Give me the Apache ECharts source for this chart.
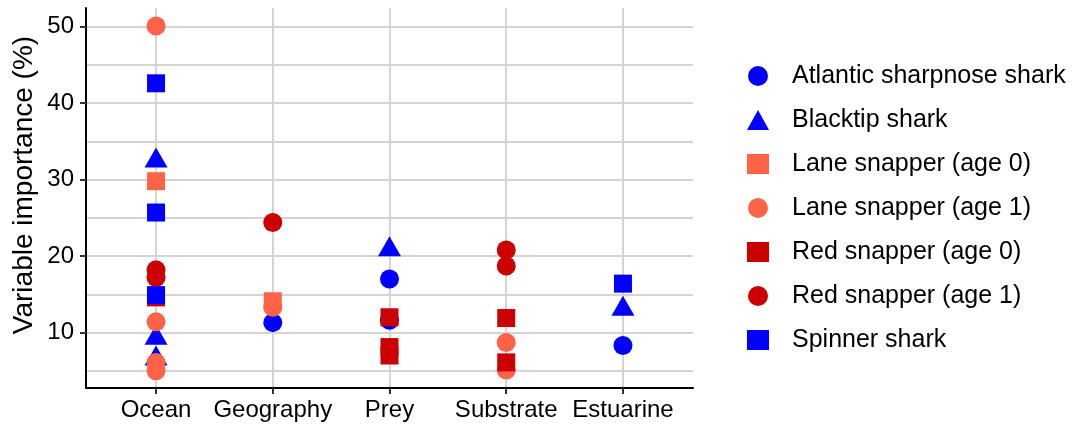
<!doctype html>
<html lang="en">
<head>
    <meta charset="UTF-8">
    <script src="https://cdn.jsdelivr.net/npm/echarts@6/dist/echarts.min.js"></script>
    <title>Variable importance</title>
    <style>html, body { margin: 0; padding: 0; background: #fff; }</style>
</head>
<body>
<div id="main" style="width: 1077px;height:429px;"></div>
<script>
    // categories on the x axis (placed at 1..5)
    var categories = ['Ocean', 'Geography', 'Prey', 'Substrate', 'Estuarine'];
    var yMajor = [10, 20, 30, 40, 50];
    var yGridLines = [5, 10, 15, 20, 25, 30, 35, 40, 45, 50];

    // [category, variable importance %]
    var atlanticSharpnose = [['Geography', 11.3], ['Prey', 17.0], ['Prey', 11.6], ['Estuarine', 8.3]];
    var blacktip = [['Ocean', 32.9], ['Ocean', 9.7], ['Ocean', 7.0], ['Prey', 21.3], ['Estuarine', 13.5]];
    var laneAge0 = [['Ocean', 29.8], ['Geography', 14.1]];
    var laneAge1 = [['Ocean', 50.1], ['Ocean', 11.4], ['Ocean', 6.1], ['Ocean', 5.0],
        ['Geography', 13.3], ['Substrate', 8.7], ['Substrate', 5.1]];
    var redAge0 = [['Ocean', 14.6], ['Prey', 12.0], ['Prey', 8.1], ['Prey', 7.0],
        ['Substrate', 11.9], ['Substrate', 6.1]];
    var redAge1 = [['Ocean', 18.2], ['Ocean', 17.2], ['Geography', 24.4],
        ['Substrate', 20.8], ['Substrate', 18.7]];
    var spinner = [['Ocean', 42.6], ['Ocean', 25.7], ['Ocean', 14.9], ['Estuarine', 16.4]];

    var FONT = 'Liberation Sans, Arial, sans-serif';
    var BLUE = '#0000FF', TOMATO = '#FF6347', DARKRED = '#CC0000';

    function toXY(rows) {
        return rows.map(function (r) { return [categories.indexOf(r[0]) + 1, r[1]]; });
    }

    function scatter(name, rows, symbol, size, color) {
        return {
            name: name,
            type: 'scatter',
            yAxisIndex: 0,
            symbol: symbol,
            symbolSize: size,
            itemStyle: {color: color, opacity: 1},
            emphasis: {disabled: true},
            data: toXY(rows)
        };
    }

    var myChart = echarts.init(document.getElementById('main'));
    var option = {
        animation: false,
        textStyle: {fontFamily: FONT},
        grid: {left: 86, right: 384, top: 8, bottom: 41, containLabel: false, outerBoundsMode: 'none'},
        graphic: [{
            // y axis title
            type: 'text',
            x: 24,
            y: 185,
            rotation: Math.PI / 2,
            style: {
                text: 'Variable importance (%)',
                fontSize: 28,
                fontFamily: FONT,
                fill: '#000',
                align: 'center',
                verticalAlign: 'middle'
            }
        }],
        legend: {
            orient: 'vertical',
            left: 742,
            top: 58,
            itemWidth: 22,
            itemHeight: 20,
            itemGap: 18,
            textStyle: {fontSize: 25, color: '#000', fontFamily: FONT, padding: [0, 0, 0, 18], lineHeight: 26},
            data: ['Atlantic sharpnose shark', 'Blacktip shark', 'Lane snapper (age 0)',
                'Lane snapper (age 1)', 'Red snapper (age 0)', 'Red snapper (age 1)', 'Spinner shark']
        },
        xAxis: {
            type: 'value',
            min: 0.4,
            max: 5.6,
            axisLine: {onZero: false, lineStyle: {color: '#000', width: 2}},
            axisTick: {customValues: [1, 2, 3, 4, 5], length: 6, lineStyle: {color: '#333', width: 2}},
            axisLabel: {
                customValues: [1, 2, 3, 4, 5],
                margin: 10,
                fontSize: 24,
                color: '#000',
                formatter: function (v) { return categories[Math.round(v) - 1]; }
            },
            splitLine: {show: true, lineStyle: {color: '#d4d4d4', width: 2}}
        },
        yAxis: [
            {
                // grid lines only
                type: 'value',
                min: 2.75,
                max: 52.45,
                axisLine: {show: false},
                axisTick: {show: false, customValues: yGridLines},
                axisLabel: {show: false},
                splitLine: {show: true, lineStyle: {color: '#d4d4d4', width: 2}}
            },
            {
                type: 'value',
                position: 'left',
                min: 2.75,
                max: 52.45,
                axisLine: {show: true, onZero: false, lineStyle: {color: '#000', width: 2}},
                axisTick: {customValues: yMajor, length: 6, lineStyle: {color: '#333', width: 2}},
                axisLabel: {customValues: yMajor, margin: 12, fontSize: 24, color: '#000'},
                splitLine: {show: false}
            }
        ],
        series: [
            scatter('Atlantic sharpnose shark', atlanticSharpnose, 'circle', 19, BLUE),
            scatter('Blacktip shark', blacktip, 'triangle', [23, 20], BLUE),
            scatter('Lane snapper (age 0)', laneAge0, 'rect', 18, TOMATO),
            scatter('Lane snapper (age 1)', laneAge1, 'circle', 19, TOMATO),
            scatter('Red snapper (age 0)', redAge0, 'rect', 18, DARKRED),
            scatter('Red snapper (age 1)', redAge1, 'circle', 19, DARKRED),
            scatter('Spinner shark', spinner, 'rect', 18, BLUE)
        ]
    };
    myChart.setOption(option);
</script>
</body>
</html>
